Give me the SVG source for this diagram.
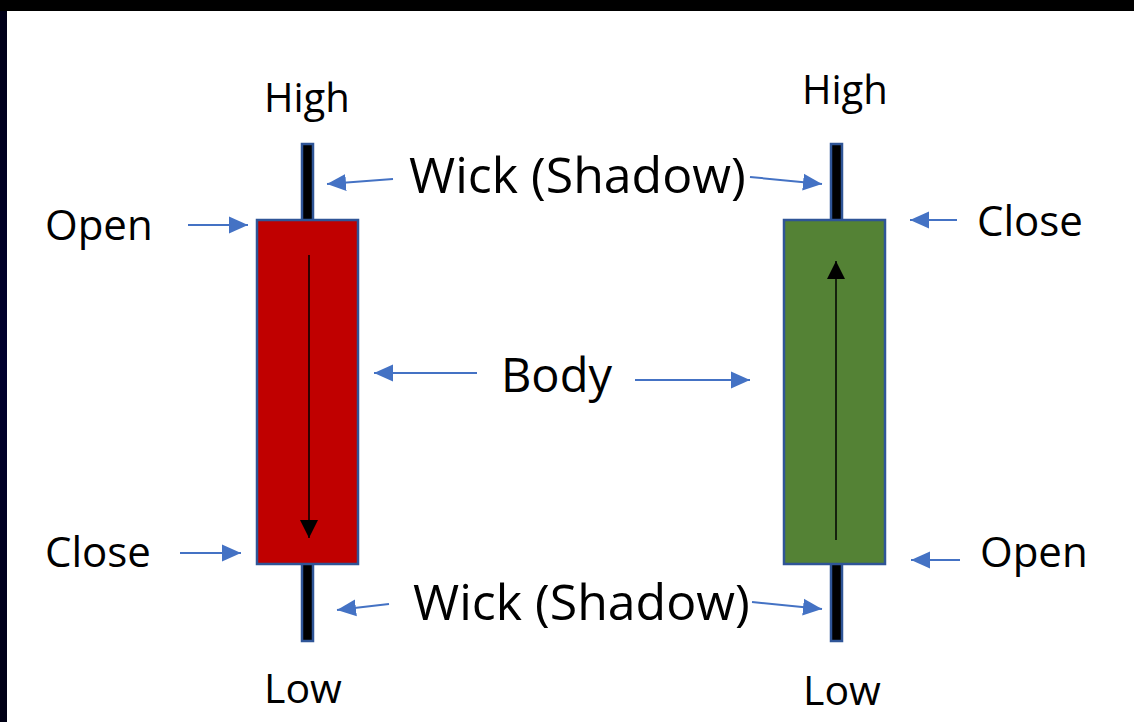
<svg xmlns="http://www.w3.org/2000/svg" width="1134" height="722" viewBox="0 0 1134 722">
  <defs>
    <linearGradient id="side" x1="0" y1="0" x2="0" y2="1">
      <stop offset="0" stop-color="#000018"/>
      <stop offset="0.5" stop-color="#00002e"/>
      <stop offset="1" stop-color="#000014"/>
    </linearGradient>
    <marker id="blueHead" markerUnits="userSpaceOnUse" markerWidth="22" markerHeight="20" refX="19" refY="10" orient="auto">
      <path d="M0,1.5 L19,10 L0,18.5 Z" fill="#4472C4"/>
    </marker>
    <marker id="blackHead" markerUnits="userSpaceOnUse" markerWidth="20" markerHeight="20" refX="18" refY="9" orient="auto">
      <path d="M0,0 L18,9 L0,18 Z" fill="#000"/>
    </marker>
    <style>
      .lbl { font-family: "Open Sans", "Liberation Sans", sans-serif; fill: #000; }
      .wick { fill: #000; stroke: #2F5597; stroke-width: 2.5; }
      .body { stroke: #2F5597; stroke-width: 2.5; }
      .ptr { stroke: #4472C4; stroke-width: 2; fill: none; marker-end: url(#blueHead); }
      .dir { stroke: #000; stroke-width: 1.5; fill: none; marker-end: url(#blackHead); }
    </style>
  </defs>

  <rect x="0" y="0" width="1134" height="722" fill="#000"/>
  <rect x="0" y="11" width="8" height="711" fill="url(#side)"/>
  <rect x="7" y="11" width="1127" height="711" fill="#fff"/>

  <g id="bearish-candle">
    <rect class="wick" x="302" y="144" width="11" height="497"/>
    <rect class="body" x="257" y="220" width="101" height="344" fill="#C00000"/>
  </g>
  <g id="bullish-candle">
    <rect class="wick" x="831" y="144" width="11" height="497"/>
    <rect class="body" x="784" y="220" width="101" height="344" fill="#548235"/>
  </g>

  <g id="connectors">
    <line class="dir" x1="309" y1="255" x2="309" y2="538"/>
    <line class="dir" x1="836" y1="540" x2="836" y2="261"/>
    <line class="ptr" x1="188" y1="225" x2="248" y2="225"/>
    <line class="ptr" x1="180" y1="553" x2="241" y2="553"/>
    <line class="ptr" x1="957" y1="220" x2="910" y2="220"/>
    <line class="ptr" x1="960" y1="560" x2="911" y2="560"/>
    <line class="ptr" x1="477" y1="373" x2="374" y2="373"/>
    <line class="ptr" x1="635" y1="380" x2="750" y2="380"/>
    <line class="ptr" x1="393" y1="179" x2="327" y2="184"/>
    <line class="ptr" x1="750" y1="177" x2="822" y2="184"/>
    <line class="ptr" x1="389" y1="604" x2="337" y2="610"/>
    <line class="ptr" x1="752" y1="602" x2="822" y2="609"/>
  </g>

  <g id="labels">
    <text class="lbl" x="264" y="112" font-size="40">High</text>
    <text class="lbl" x="802" y="104" font-size="40">High</text>
    <text class="lbl" x="409" y="193" font-size="50">Wick (Shadow)</text>
    <text class="lbl" x="413" y="620" font-size="50">Wick (Shadow)</text>
    <text class="lbl" x="45" y="240" font-size="42">Open</text>
    <text class="lbl" x="45" y="567" font-size="42">Close</text>
    <text class="lbl" x="977" y="236" font-size="42">Close</text>
    <text class="lbl" x="980" y="567" font-size="42">Open</text>
    <text class="lbl" x="501" y="392" font-size="47">Body</text>
    <text class="lbl" x="264" y="703" font-size="41">Low</text>
    <text class="lbl" x="803" y="705" font-size="41">Low</text>
  </g>
</svg>
